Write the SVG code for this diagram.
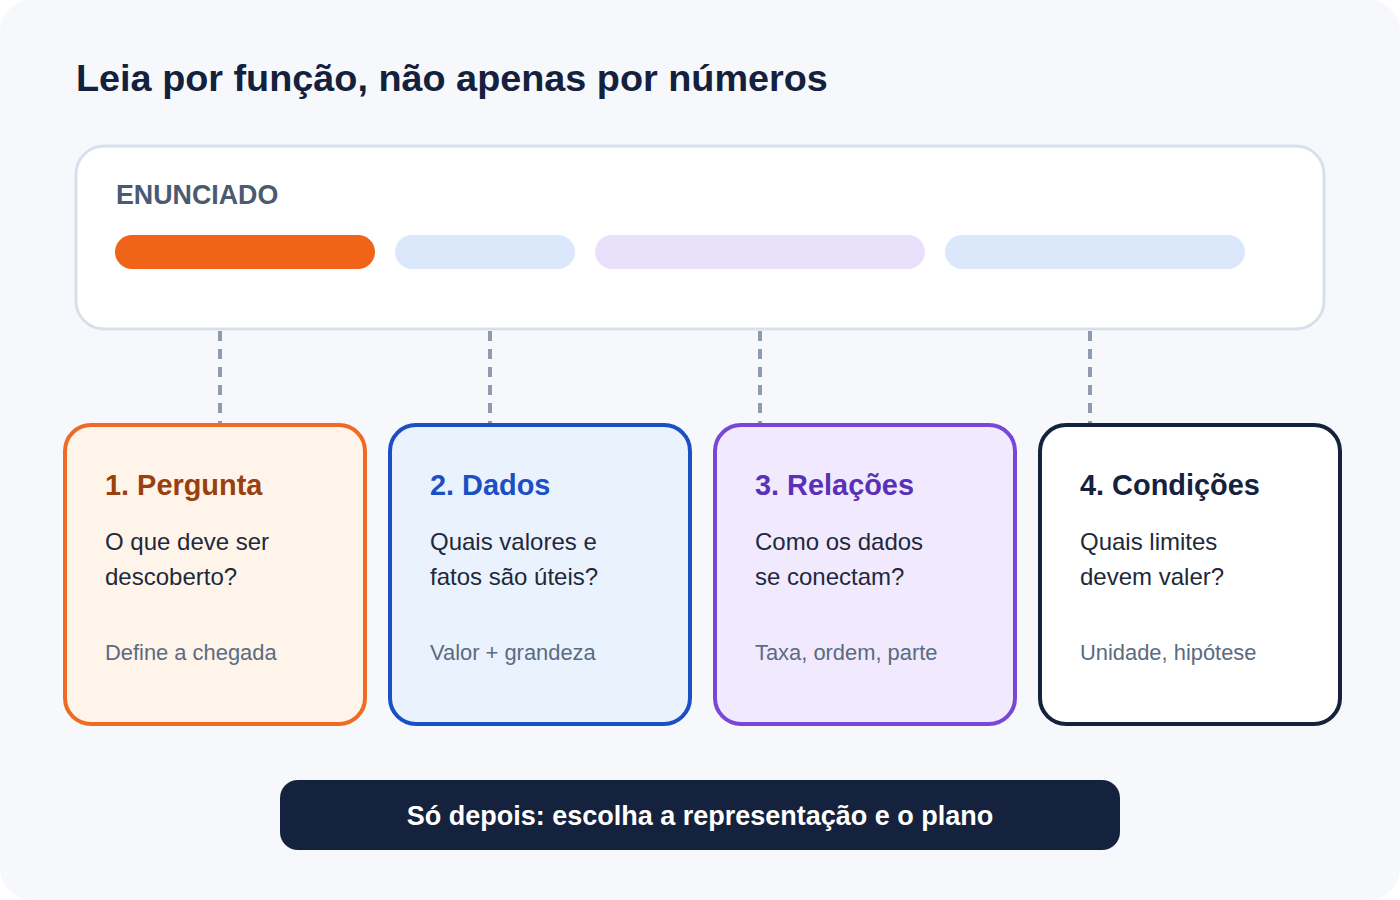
<svg xmlns="http://www.w3.org/2000/svg" width="1400" height="900" viewBox="0 0 1400 900">
<style>
text{font-family:"Liberation Sans",Arial,sans-serif}
.title{font-size:37.8px;font-weight:bold;fill:#14213d}
.lab{font-size:26.8px;font-weight:bold;fill:#4a5a72}
.ct{font-size:28.9px;font-weight:bold}
.body{font-size:24px;fill:#1e293b}
.note{font-size:21.9px;fill:#5b6b80}
.card{stroke-width:4}
.conn{stroke:#8f9bb0;stroke-width:4;stroke-dasharray:10 8;fill:none}
.bar{font-size:27px;font-weight:bold;fill:#ffffff}
</style>
<rect x="0" y="0" width="1400" height="900" fill="#ffffff"/>
<rect x="0" y="0" width="1400" height="900" rx="32" fill="#f6f8fc"/>
<text class="title" x="76" y="91">Leia por função, não apenas por números</text>
<g id="enunciado">
<rect x="76" y="146" width="1248" height="183" rx="28" fill="#ffffff" stroke="#d9e0ec" stroke-width="3"/>
<text class="lab" x="116" y="204">ENUNCIADO</text>
<rect x="115" y="235" width="260" height="34" rx="17" fill="#f06419"/>
<rect x="395" y="235" width="180" height="34" rx="17" fill="#dbe8fc"/>
<rect x="595" y="235" width="330" height="34" rx="17" fill="#e9e1fb"/>
<rect x="945" y="235" width="300" height="34" rx="17" fill="#dbe8fc"/>
</g>
<g id="connectors">
<line class="conn" x1="220" y1="331" x2="220" y2="425"/>
<line class="conn" x1="490" y1="331" x2="490" y2="425"/>
<line class="conn" x1="760" y1="331" x2="760" y2="425"/>
<line class="conn" x1="1090" y1="331" x2="1090" y2="425"/>
</g>
<g id="card1">
<rect class="card" x="65" y="425" width="300" height="299" rx="26" fill="#fff4ea" stroke="#ef6a22"/>
<text class="ct" x="105" y="495" fill="#9a3f0e">1. Pergunta</text>
<text class="body" x="105" y="550">O que deve ser</text>
<text class="body" x="105" y="585">descoberto?</text>
<text class="note" x="105" y="660">Define a chegada</text>
</g>
<g id="card2">
<rect class="card" x="390" y="425" width="300" height="299" rx="26" fill="#eaf2fe" stroke="#1b4fc4"/>
<text class="ct" x="430" y="495" fill="#1b4fc4">2. Dados</text>
<text class="body" x="430" y="550">Quais valores e</text>
<text class="body" x="430" y="585">fatos são úteis?</text>
<text class="note" x="430" y="660">Valor + grandeza</text>
</g>
<g id="card3">
<rect class="card" x="715" y="425" width="300" height="299" rx="26" fill="#f1eafe" stroke="#7747d8"/>
<text class="ct" x="755" y="495" fill="#5b30b8">3. Relações</text>
<text class="body" x="755" y="550">Como os dados</text>
<text class="body" x="755" y="585">se conectam?</text>
<text class="note" x="755" y="660">Taxa, ordem, parte</text>
</g>
<g id="card4">
<rect class="card" x="1040" y="425" width="300" height="299" rx="26" fill="#ffffff" stroke="#15223d"/>
<text class="ct" x="1080" y="495" fill="#15223d">4. Condições</text>
<text class="body" x="1080" y="550">Quais limites</text>
<text class="body" x="1080" y="585">devem valer?</text>
<text class="note" x="1080" y="660">Unidade, hipótese</text>
</g>
<g id="footer">
<rect x="280" y="780" width="840" height="70" rx="18" fill="#15223d"/>
<text class="bar" x="700" y="825" text-anchor="middle">Só depois: escolha a representação e o plano</text>
</g>
</svg>
